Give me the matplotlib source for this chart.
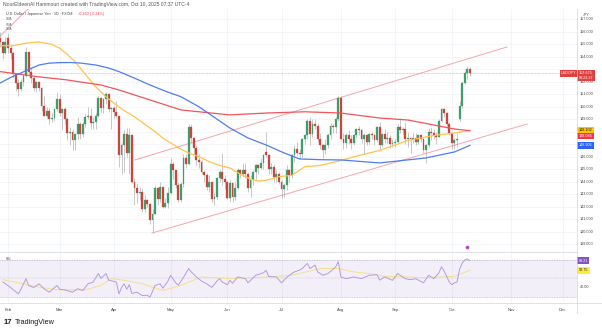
import matplotlib
matplotlib.use('Agg')
import matplotlib.pyplot as plt
import matplotlib.transforms as mtransforms
from matplotlib.lines import Line2D
import numpy as np
import pandas as pd

plt.rcParams['font.family'] = ['Liberation Sans', 'DejaVu Sans']

# ---- daily USD/JPY bars, 29 Jan 2025 -> 10 Oct 2025 (weekdays) ----
bar_start, bar_end = '2025-01-29', '2025-10-10'

opens = [155.5, 155.2, 154.3,
         155.5, 154.7, 154.3, 152.6, 151.9, 151.4, 152.0, 152.5, 154.4, 152.8, 152.3, 151.5, 152.0, 151.5, 150.1, 149.3, 149.7, 149.0, 149.1, 149.8,
         150.6, 149.5, 149.8, 149.0, 147.9, 148.0, 147.3, 147.8, 148.6, 147.8, 148.6, 149.2, 149.3, 148.7, 148.8, 149.3, 150.7, 149.9, 150.6, 151.0, 149.8,
         149.9, 149.6, 149.3, 146.1, 146.9, 147.8, 146.3, 147.7, 144.0, 143.5, 143.1, 143.2, 141.8, 142.5, 142.2, 140.9, 141.4, 143.5, 142.6, 143.6, 142.0, 142.3,
         143.1, 145.4, 144.9, 143.7, 142.5, 143.8, 145.9, 145.4, 148.4, 147.5, 146.7, 145.7, 145.6, 144.8, 144.5, 143.6, 144.0, 142.6, 142.8, 144.3, 144.8, 144.2,
         144.0, 142.7, 143.9, 142.8, 143.5, 144.9, 144.6, 144.9, 144.6, 143.5, 144.1, 144.8, 145.3, 145.1, 145.5, 146.4, 146.1, 145.0, 145.2, 144.4, 144.6,
         144.0, 143.4, 143.7, 144.9, 144.5, 146.1, 146.6, 146.3, 146.2, 147.4, 147.7, 148.9, 147.8, 148.6, 148.5, 147.4, 146.9, 146.5, 146.9, 147.7, 148.5, 148.4, 149.0,
         150.7, 147.4, 147.1, 147.7, 147.4, 147.1, 147.7, 148.2, 148.1, 147.4, 147.7, 147.2, 147.8, 147.7, 147.3, 148.4, 146.9, 147.8, 147.4, 147.5, 147.0,
         147.1, 147.2, 148.4, 148.1, 148.2, 147.4, 147.5, 147.4, 147.5, 147.2, 147.7, 147.4, 146.5, 146.9, 148.0, 147.9, 147.7, 147.6, 148.9, 149.8, 149.5, 148.6,
         147.9, 147.1, 147.3, 149.0, 150.1, 151.9, 152.7, 153.0]
highs = [156.0, 155.3, 155.6,
         155.9, 155.0, 154.5, 152.7, 152.2, 152.2, 152.6, 154.8, 154.5, 153.2, 152.5, 152.1, 152.1, 151.6, 150.9, 150.0, 149.9, 149.5, 149.9, 151.2,
         151.0, 149.9, 150.0, 149.2, 148.4, 148.2, 147.9, 149.2, 148.8, 148.8, 149.4, 150.0, 149.9, 149.2, 149.5, 150.9, 150.8, 150.7, 151.2, 151.1, 150.0,
         150.1, 150.5, 149.3, 147.1, 148.1, 148.3, 148.3, 147.8, 144.3, 143.9, 143.6, 143.5, 142.9, 142.6, 142.3, 141.8, 143.7, 143.5, 144.0, 143.6, 142.7, 143.6,
         145.9, 145.6, 144.9, 144.0, 144.0, 146.2, 146.2, 148.6, 148.6, 147.6, 146.9, 146.2, 145.7, 144.9, 144.7, 144.5, 144.0, 143.1, 144.4, 144.9, 146.3, 144.5,
         144.1, 144.1, 144.0, 144.0, 145.1, 145.0, 145.5, 145.5, 144.7, 144.5, 144.9, 145.4, 145.4, 145.9, 146.2, 148.0, 146.2, 145.5, 145.4, 144.9, 144.8,
         144.1, 143.9, 145.3, 145.0, 146.2, 146.9, 147.2, 146.6, 147.5, 147.8, 149.0, 149.2, 149.0, 149.0, 148.7, 147.9, 147.0, 147.4, 147.9, 148.7, 148.6, 149.2, 150.9,
         150.9, 147.9, 147.9, 148.1, 147.7, 147.8, 148.3, 148.5, 148.2, 147.9, 147.8, 147.9, 148.0, 147.8, 148.5, 148.8, 147.9, 148.2, 148.0, 147.7, 147.4,
         147.4, 148.6, 149.1, 148.4, 148.8, 148.0, 147.6, 147.9, 147.9, 147.8, 147.8, 147.5, 147.0, 148.3, 148.4, 148.2, 148.0, 149.0, 149.9, 149.9, 149.6, 148.8,
         148.0, 147.5, 147.9, 150.5, 152.1, 152.9, 153.3, 153.2]
lows = [154.8, 153.8, 154.2,
        154.3, 153.8, 152.3, 151.3, 150.9, 151.3, 151.7, 152.4, 152.6, 151.9, 151.3, 151.2, 151.3, 149.7, 149.3, 149.1, 148.6, 148.8, 148.9, 149.7,
        149.3, 148.1, 148.6, 147.3, 146.9, 146.5, 146.5, 147.4, 147.4, 147.6, 148.4, 149.0, 148.2, 148.2, 148.2, 149.2, 149.6, 149.5, 150.2, 149.6, 148.2,
        149.1, 149.1, 145.2, 144.6, 144.8, 146.0, 144.6, 143.9, 142.1, 142.3, 142.5, 141.6, 141.6, 142.0, 140.6, 139.9, 141.4, 142.1, 142.4, 141.9, 141.9, 141.9,
        143.0, 144.2, 143.5, 142.4, 142.4, 143.6, 145.1, 145.3, 147.1, 146.1, 145.3, 145.1, 144.6, 144.0, 143.3, 143.2, 142.4, 142.1, 142.6, 144.0, 143.7, 143.4,
        142.6, 142.4, 142.4, 142.5, 143.4, 144.3, 144.4, 144.3, 143.2, 142.8, 143.7, 144.2, 144.6, 145.0, 145.0, 146.0, 144.6, 144.6, 144.0, 144.0, 143.8,
        142.7, 142.8, 143.3, 144.0, 144.3, 145.6, 146.1, 145.8, 146.0, 147.0, 147.4, 146.9, 147.6, 148.2, 147.2, 146.6, 145.9, 146.2, 146.7, 147.4, 147.9, 147.9, 148.9,
        147.3, 146.6, 146.7, 147.0, 146.6, 146.9, 147.5, 147.7, 147.1, 146.2, 146.9, 147.0, 147.4, 146.9, 147.2, 146.6, 146.8, 147.1, 147.1, 146.7, 146.8,
        146.8, 147.1, 147.9, 147.7, 147.0, 146.8, 146.3, 147.1, 146.9, 147.0, 147.2, 146.3, 145.5, 146.8, 147.3, 147.4, 147.0, 147.6, 148.8, 149.2, 148.5, 147.7,
        146.6, 146.6, 146.8, 148.9, 149.9, 151.8, 152.2, 152.5]
closes = [155.2, 154.3, 155.2,
          154.7, 154.3, 152.6, 151.9, 151.4, 152.0, 152.5, 154.4, 152.8, 152.3, 151.5, 152.0, 151.5, 150.1, 149.3, 149.7, 149.0, 149.1, 149.8, 150.6,
          149.5, 149.8, 149.0, 147.9, 148.0, 147.3, 147.8, 148.6, 147.8, 148.6, 149.2, 149.3, 148.7, 148.8, 149.3, 150.7, 149.9, 150.6, 151.0, 149.8, 149.9,
          149.6, 149.3, 146.1, 146.9, 147.8, 146.3, 147.7, 144.0, 143.5, 143.1, 143.2, 141.8, 142.5, 142.2, 140.9, 141.4, 143.5, 142.6, 143.6, 142.0, 142.3, 143.1,
          145.4, 144.9, 143.7, 142.5, 143.8, 145.9, 145.4, 148.4, 147.5, 146.7, 145.7, 145.6, 144.8, 144.5, 143.6, 144.0, 142.6, 142.8, 144.3, 144.8, 144.2, 144.0,
          142.7, 143.9, 142.8, 143.5, 144.9, 144.6, 144.9, 144.6, 143.5, 144.1, 144.8, 145.3, 145.1, 145.5, 146.1, 146.1, 145.0, 145.2, 144.4, 144.6, 144.0,
          143.4, 143.7, 144.9, 144.5, 146.1, 146.6, 146.3, 146.2, 147.4, 147.7, 148.9, 147.8, 148.6, 148.5, 147.4, 146.9, 146.5, 146.9, 147.7, 148.5, 148.4, 149.0, 150.7,
          147.4, 147.1, 147.7, 147.4, 147.1, 147.7, 148.2, 148.1, 147.4, 147.7, 147.2, 147.8, 147.7, 147.3, 148.4, 146.9, 147.8, 147.4, 147.5, 147.0, 147.1,
          147.2, 148.4, 148.1, 148.2, 147.4, 147.5, 147.4, 147.5, 147.2, 147.7, 147.4, 146.5, 146.9, 148.0, 147.9, 147.7, 147.6, 148.9, 149.8, 149.5, 148.6, 147.9,
          147.1, 147.3, 147.4, 150.1, 151.9, 152.7, 153.0, 152.675]

# moving averages (bar index, price)
ma50_idx = [0, 5, 10, 15, 20, 23, 26, 29, 33, 37, 41, 44, 48, 52, 56, 60, 63, 66, 70, 73, 77, 81, 85, 89, 93, 97, 100, 103, 108, 113, 118, 124, 132, 139, 147, 158, 168, 176, 182]
ma50_val = [154.9, 154.9, 155.1, 155.2, 155.0, 154.7, 154.2, 153.6, 152.6, 151.6, 150.8, 150.3, 149.7, 149.2, 148.6, 148.0, 147.5, 147.1, 146.6, 146.3, 146.0, 145.6, 145.3, 145.1, 144.6, 144.2, 144.05, 144.1, 144.4, 144.5, 145.2, 145.3, 145.7, 146.1, 146.5, 147.3, 147.7, 147.9, 148.102]
ma200_idx = [0, 8, 15, 26, 31, 39, 46, 52, 58, 64, 70, 77, 89, 103, 118, 132, 147, 158, 168, 176, 182]
ma200_val = [152.82, 152.6, 152.4, 152.15, 151.99, 151.75, 151.35, 150.95, 150.55, 150.15, 149.75, 149.6, 149.35, 149.5, 149.6, 149.5, 149.1, 148.94, 148.54, 148.22, 148.086]
ma100_idx = [0, 4, 8, 12, 15, 19, 23, 27, 31, 37, 42, 46, 52, 58, 64, 70, 77, 83, 89, 96, 103, 110, 116, 124, 132, 147, 165, 176, 182]
ma100_val = [151.91, 152.35, 152.71, 153.08, 153.35, 153.5, 153.54, 153.55, 153.51, 153.35, 153.11, 152.82, 152.3, 151.75, 151.25, 150.81, 150.0, 149.15, 148.3, 147.5, 146.94, 146.3, 145.82, 145.76, 145.74, 145.5, 145.9, 146.38, 146.906]

# hand-drawn trend lines (bar index, price)
chan_low_idx, chan_low_val = [58.8, 204.2], [139.88, 148.62]
chan_up_idx, chan_up_val = [52.2, 196.4], [145.74, 154.8]
steep_idx, steep_val = [0, 11.5], [155.68, 158.0]

rsi_idx = [1, 4, 7, 8, 10, 11, 13, 15, 17, 19, 22, 23, 25, 28, 30, 32, 34, 36, 38, 39, 41, 42, 45, 46, 47, 48, 49, 50, 51, 53, 55, 57, 58, 60, 62, 63, 65, 66, 68, 69, 71, 73, 74, 76, 78, 80, 82, 84, 85, 86, 88, 89, 90, 92, 95, 96, 99, 102, 103, 104, 107, 109, 111, 113, 114, 116, 117, 119, 120, 122, 123, 125, 127, 129, 130, 131, 132, 134, 137, 140, 141, 143, 146, 147, 149, 152, 154, 157, 159, 161, 164, 166, 168, 170, 171, 172, 173, 174, 175, 176, 177, 178, 179, 180, 181, 182]
rsi_val = [46, 40, 33, 38, 49.6, 42, 40, 44, 38.5, 34.8, 42.2, 38, 37.4, 34.8, 38.5, 36.7, 44, 45.9, 55.2, 50, 55.2, 48, 45.9, 33, 40, 44, 38, 43, 33.5, 34.8, 31.1, 31.5, 29.3, 42.2, 44, 39, 47, 53.3, 45, 42.5, 51, 60.7, 57, 51.5, 47, 44, 40, 47, 49.6, 46, 43, 47.8, 44.5, 51.5, 49.6, 45, 53.3, 56, 58.9, 52, 51.5, 45, 51, 55.2, 57, 59, 60.7, 66.3, 60.7, 64.4, 57, 53.3, 55.2, 60, 62.6, 68.1, 51.5, 49.6, 51.5, 49.6, 51, 53.3, 54, 48, 51.5, 47.8, 55.2, 49.6, 48.5, 49.6, 45, 53.3, 49.6, 56, 62.6, 58, 52, 46, 43, 45, 46, 60, 66.5, 70, 71.2, 69.21]
rsi_ma_idx = [1, 15, 22, 33, 39, 43, 48, 55, 63, 70, 78, 89, 104, 113, 124, 131, 137, 143, 149, 157, 164, 171, 176, 182]
rsi_ma_val = [48.5, 40.4, 37.4, 37.4, 42.2, 49.6, 47.8, 44, 36.7, 42.2, 51.5, 49.6, 51.5, 53.3, 60.7, 60.7, 57, 55.2, 52.2, 51.5, 50.7, 51.5, 52.2, 58.75]

price_ticks = list(range(139, 158))
hidden_ticks = [147, 148, 153]          # covered by the value tags
month_labels = ['Feb', 'Mar', 'Apr', 'May', 'Jun', 'Jul', 'Aug', 'Sep', 'Oct', 'Nov', 'Dec']
event_idx = [181]

UP, DN = '#3f9d6b', '#c9463f'
GRID = '#f0f2f6'

bars = pd.bdate_range(bar_start, bar_end)
full = pd.bdate_range(bar_start, '2025-12-31')
x = np.arange(len(bars))
month_pos = [int(np.argmax(full.month == m)) for m in range(2, 13)]

W, H = 602, 330
fig = plt.figure(figsize=(W / 100, H / 100), dpi=100)


def box(x0, y0, x1, y1):
    return [x0 / W, 1 - y1 / H, (x1 - x0) / W, (y1 - y0) / H]


ax = fig.add_axes(box(0, 9, 577, 251.5))
ax2 = fig.add_axes(box(0, 252.5, 577, 303), sharex=ax)
for a in (ax, ax2):
    for s in a.spines.values():
        s.set_visible(False)
    a.tick_params(left=False, bottom=False, labelleft=False, labelbottom=False)
    for m in month_pos:
        a.axvline(m, color=GRID, lw=0.5, zorder=0)
ax.set_xlim(-0.1, 223.5)
ax.set_ylim(138.40, 157.84)
ax2.set_ylim(23.0, 78.2)
for p in price_ticks:
    ax.axhline(p, color=GRID, lw=0.5, zorder=0)

# candles
o, h, l, c = map(np.array, (opens, highs, lows, closes))
col = np.where(c >= o, UP, DN)
ax.vlines(x, l, h, color='#a9a9a9', lw=0.45, zorder=3)
ax.bar(x, np.maximum(np.abs(c - o), 0.04), bottom=np.minimum(o, c), width=0.72,
       color=col, edgecolor=col, linewidth=0.2, zorder=4)

# moving averages and trend lines
ax.plot(ma50_idx, ma50_val, color='#ffc34a', lw=0.9, zorder=5)
ax.plot(ma200_idx, ma200_val, color='#f2545b', lw=0.9, zorder=5)
ax.plot(ma100_idx, ma100_val, color='#4d7ef0', lw=0.9, zorder=5)
for xi, yi in ((chan_low_idx, chan_low_val), (chan_up_idx, chan_up_val), (steep_idx, steep_val)):
    ax.plot(xi, yi, color='#f6a5ab', lw=0.7, zorder=2)
ax.axhline(closes[-1], color='#f23645', lw=0.4, ls=(0, (1, 1.5)), alpha=0.8, zorder=2)

# event marker
ev = ax.get_xaxis_transform()
ax.scatter(event_idx, [0.019], s=5, facecolor='white', edgecolor='#9c27b0', lw=0.4, transform=ev, zorder=6, clip_on=False)
ax.scatter(event_idx, [0.019], s=0.6, color='#9c27b0', transform=ev, zorder=7, clip_on=False)

# RSI pane
ax2.axhspan(30, 70, color='#7e57c2', alpha=0.09, lw=0, zorder=0)
ax2.axhline(70, color='#9598a1', lw=0.4, ls=(0, (1.5, 1.5)))
ax2.axhline(30, color='#9598a1', lw=0.4, ls=(0, (1.5, 1.5)))
ax2.axhline(50, color='#b2b5be', lw=0.35, ls=(0, (1.5, 1.5)))
ax2.plot(rsi_ma_idx, rsi_ma_val, color='#f5df8a', lw=0.7, zorder=3)
ax2.plot(rsi_idx, rsi_val, color='#b39ddb', lw=0.7, zorder=4)
ax2.text(0.01, 0.87, 'RSI', transform=ax2.transAxes, fontsize=2.4, color='#555', va='center')

# month labels
for m, lab in zip(month_pos, month_labels):
    ax2.text(m, -0.13, lab, transform=ax2.get_xaxis_transform(), fontsize=3,
             color='#444', ha='center', va='center', clip_on=False)

# right price scale
yt = ax.get_yaxis_transform()
for p in price_ticks:
    if p in hidden_ticks:
        continue
    ax.text(1.005, p, f'{p}.000', transform=yt, fontsize=2.7, color='#444', va='center', ha='left', clip_on=False)


def tag(a, val, txt, fc, tc='white', dy=0):
    tr = mtransforms.offset_copy(a.get_yaxis_transform(), fig=fig, y=dy, units='dots')
    a.text(1.003, val, txt, transform=tr, fontsize=2.7, color=tc, va='center', ha='left', clip_on=False,
           bbox=dict(boxstyle='square,pad=0.35', fc=fc, ec='none'), linespacing=1.3)


tag(ax, closes[-1], f'{closes[-1]:.3f}\n09:22:37', '#e0403f', dy=-2)
ax.text(0.999, closes[-1], 'USD/JPY', transform=yt, fontsize=2.7, color='white', va='center', ha='right',
        clip_on=False, bbox=dict(boxstyle='square,pad=0.35', fc='#e0403f', ec='none'))
tag(ax, ma50_val[-1], f'{ma50_val[-1]:.3f}', '#ffc107', tc='#222', dy=0.5)
tag(ax, ma200_val[-1], f'{ma200_val[-1]:.3f}', '#f23645', dy=-5.5)
tag(ax, ma100_val[-1], f'{ma100_val[-1]:.3f}', '#2962ff')
tag(ax2, rsi_val[-1], f'{rsi_val[-1]:.2f}', '#7e57c2')
tag(ax2, rsi_ma_val[-1], f'{rsi_ma_val[-1]:.2f}', '#ffeb3b', tc='#222')
ax2.text(1.005, 40, '40.00', transform=ax2.get_yaxis_transform(), fontsize=2.7, color='#444', va='center', ha='left', clip_on=False)

# frame lines
for xs, ys in (([0, 577 / W], [1 - 252 / H] * 2), ([0, 1], [1 - 303 / H] * 2), ([577 / W] * 2, [1 - 9 / H, 1 - 313 / H])):
    fig.add_artist(Line2D(xs, ys, color='#d1d4dc', lw=0.5))

# header and footer texts
fig.text(3 / W, 1 - 4.5 / H, 'NourEldeenAl Hammouri created with TradingView.com, Oct 10, 2025 07:37 UTC-4',
         fontsize=3.6, color='#555', va='center')
fig.text(6 / W, 1 - 14 / H, 'U.S. Dollar / Japanese Yen · 1D · FXCM', fontsize=2.7, color='#444', va='center')
fig.text(78 / W, 1 - 14 / H, '-0.360 (-0.24%)', fontsize=2.7, color='#f23645', va='center')
for yy in (19.5, 24.5, 29.5):
    fig.text(6 / W, 1 - yy / H, 'SMA', fontsize=2.2, color='#666', va='center')
fig.text(583 / W, 1 - 15 / H, 'JPY', fontsize=2.7, color='#444', va='center')
fig.text(4 / W, 1 - 322 / H, '17', fontsize=5.5, fontweight='bold', color='#131722', va='center')
fig.text(15 / W, 1 - 322 / H, 'TradingView', fontsize=5.2, color='#131722', va='center')

fig.savefig('out.png', dpi=100, facecolor='white')
